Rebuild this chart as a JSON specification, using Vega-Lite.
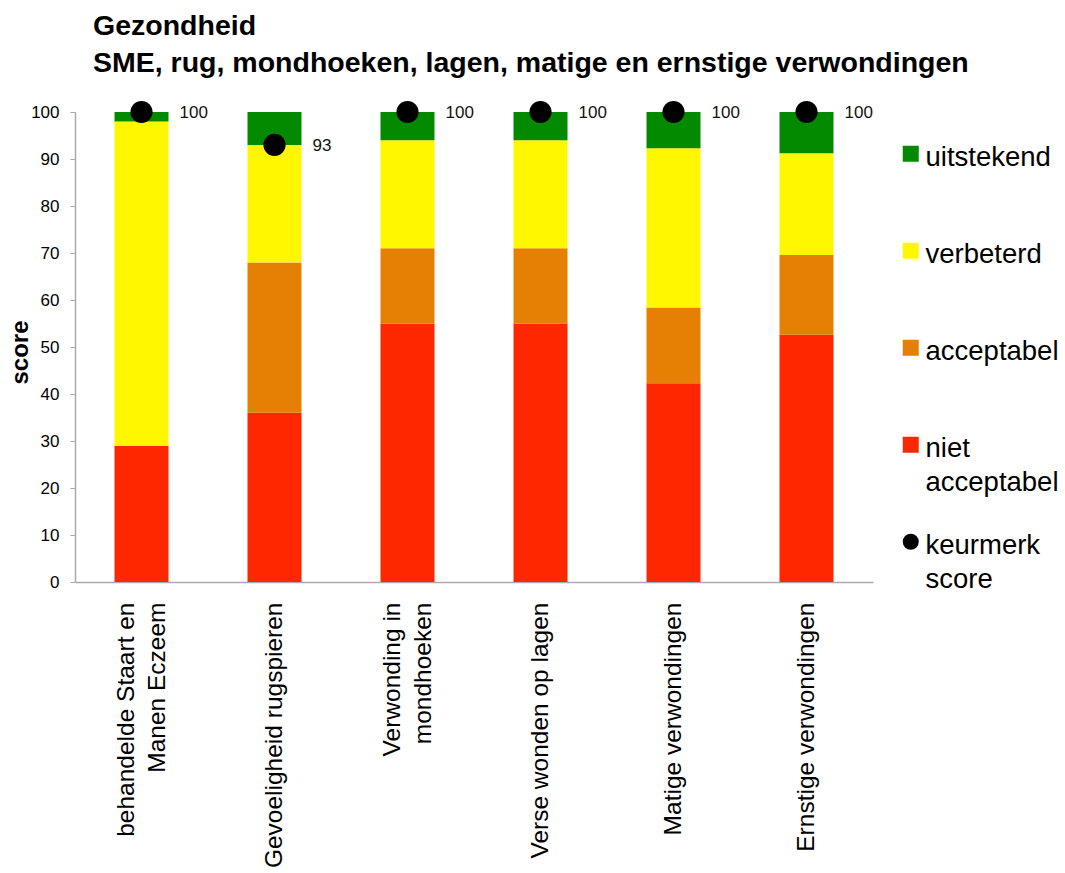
{
  "$schema": "https://vega.github.io/schema/vega-lite/v6.json",
  "width": 798,
  "height": 470,
  "autosize": {"type": "none"},
  "padding": {"left": 75, "top": 112, "right": 192, "bottom": 291},
  "background": "white",
  "title": {
    "text": ["Gezondheid", "SME, rug, mondhoeken, lagen, matige en ernstige verwondingen"],
    "anchor": "start",
    "frame": "group",
    "dx": 18,
    "fontSize": 28.5,
    "fontWeight": "bold",
    "font": "Liberation Sans",
    "color": "#000000",
    "lineHeight": 37,
    "offset": 23
  },
  "config": {
    "view": {"stroke": null},
    "font": "Liberation Sans"
  },
  "datasets": {
    "bars": [
      {"item": "behandelde Staart en|Manen Eczeem", "cat": "niet acceptabel", "ord": 1, "value": 29},
      {"item": "behandelde Staart en|Manen Eczeem", "cat": "acceptabel", "ord": 2, "value": 0},
      {"item": "behandelde Staart en|Manen Eczeem", "cat": "verbeterd", "ord": 3, "value": 69},
      {"item": "behandelde Staart en|Manen Eczeem", "cat": "uitstekend", "ord": 4, "value": 2},
      {"item": "Gevoeligheid rugspieren", "cat": "niet acceptabel", "ord": 1, "value": 36},
      {"item": "Gevoeligheid rugspieren", "cat": "acceptabel", "ord": 2, "value": 32},
      {"item": "Gevoeligheid rugspieren", "cat": "verbeterd", "ord": 3, "value": 25},
      {"item": "Gevoeligheid rugspieren", "cat": "uitstekend", "ord": 4, "value": 7},
      {"item": "Verwonding in|mondhoeken", "cat": "niet acceptabel", "ord": 1, "value": 55},
      {"item": "Verwonding in|mondhoeken", "cat": "acceptabel", "ord": 2, "value": 16},
      {"item": "Verwonding in|mondhoeken", "cat": "verbeterd", "ord": 3, "value": 23},
      {"item": "Verwonding in|mondhoeken", "cat": "uitstekend", "ord": 4, "value": 6},
      {"item": "Verse wonden op lagen", "cat": "niet acceptabel", "ord": 1, "value": 55},
      {"item": "Verse wonden op lagen", "cat": "acceptabel", "ord": 2, "value": 16},
      {"item": "Verse wonden op lagen", "cat": "verbeterd", "ord": 3, "value": 23},
      {"item": "Verse wonden op lagen", "cat": "uitstekend", "ord": 4, "value": 6},
      {"item": "Matige verwondingen", "cat": "niet acceptabel", "ord": 1, "value": 42.3},
      {"item": "Matige verwondingen", "cat": "acceptabel", "ord": 2, "value": 16.1},
      {"item": "Matige verwondingen", "cat": "verbeterd", "ord": 3, "value": 33.9},
      {"item": "Matige verwondingen", "cat": "uitstekend", "ord": 4, "value": 7.7},
      {"item": "Ernstige verwondingen", "cat": "niet acceptabel", "ord": 1, "value": 52.6},
      {"item": "Ernstige verwondingen", "cat": "acceptabel", "ord": 2, "value": 17},
      {"item": "Ernstige verwondingen", "cat": "verbeterd", "ord": 3, "value": 21.6},
      {"item": "Ernstige verwondingen", "cat": "uitstekend", "ord": 4, "value": 8.8}
    ],
    "keur": [
      {"item": "behandelde Staart en|Manen Eczeem", "cat": "keurmerk score", "score": 100},
      {"item": "Gevoeligheid rugspieren", "cat": "keurmerk score", "score": 93},
      {"item": "Verwonding in|mondhoeken", "cat": "keurmerk score", "score": 100},
      {"item": "Verse wonden op lagen", "cat": "keurmerk score", "score": 100},
      {"item": "Matige verwondingen", "cat": "keurmerk score", "score": 100},
      {"item": "Ernstige verwondingen", "cat": "keurmerk score", "score": 100}
    ]
  },
  "encoding": {
    "x": {
      "field": "item",
      "type": "nominal",
      "sort": null,
      "scale": {"paddingInner": 0.594, "paddingOuter": 0.297},
      "axis": {
        "title": null,
        "labelAngle": -90,
        "labelAlign": "right",
        "labelBaseline": "middle",
        "labelFontSize": 24.5,
        "labelColor": "#000000",
        "labelLineHeight": 31,
        "labelPadding": 20,
        "labelLimit": 400,
        "labelOffset": {"condition": {"test": "indexof(datum.value, '|') >= 0", "value": -15}, "value": 0},
        "labelExpr": "split(datum.label, '|')",
        "ticks": false,
        "domainColor": "#aaaaaa",
        "domainWidth": 1.5
      }
    }
  },
  "layer": [
    {
      "data": {"name": "bars"},
      "mark": {"type": "bar"},
      "encoding": {
        "y": {
          "field": "value",
          "type": "quantitative",
          "stack": "zero",
          "scale": {"domain": [0, 100], "nice": false},
          "axis": {
            "title": "score",
            "titleFontSize": 24,
            "titleFontWeight": "bold",
            "titleColor": "#000000",
            "titleX": -55,
            "titleY": 240,
            "titleBaseline": "middle",
            "titleAngle": -90,
            "values": [0, 10, 20, 30, 40, 50, 60, 70, 80, 90, 100],
            "grid": false,
            "labelFontSize": 17,
            "labelColor": "#000000",
            "labelPadding": 11,
            "tickSize": 5,
            "tickColor": "#aaaaaa",
            "domainColor": "#aaaaaa",
            "domainWidth": 1.5
          }
        },
        "order": {"field": "ord", "type": "quantitative"},
        "color": {
          "field": "cat",
          "type": "nominal",
          "scale": {
            "domain": ["uitstekend", "verbeterd", "acceptabel", "niet acceptabel", "keurmerk score"],
            "range": ["#038a00", "#fff700", "#e68005", "#ff2700", "#000000"]
          },
          "legend": {
            "title": null,
            "orient": "none",
            "legendX": 822,
            "legendY": 28,
            "labelFontSize": 27.5,
            "labelColor": "#000000",
            "labelLimit": 300,
            "labelOffset": 1,
            "symbolSize": 256,
            "symbolStrokeWidth": 0,
            "rowPadding": 31,
            "padding": 0,
            "labelBaseline": "alphabetic",
            "labelExpr": "datum.label == 'niet acceptabel' ? ['niet', 'acceptabel'] : datum.label == 'keurmerk score' ? ['keurmerk', 'score'] : [datum.label, '']",
            "encode": {"labels": {"update": {"dy": {"value": 12}, "lineHeight": {"value": 34}}}}
          }
        }
      }
    },
    {
      "data": {"name": "keur"},
      "mark": {"type": "point", "filled": true, "opacity": 1, "size": 490},
      "encoding": {
        "y": {"field": "score", "type": "quantitative"},
        "color": {
          "field": "cat",
          "type": "nominal",
          "scale": {
            "domain": ["uitstekend", "verbeterd", "acceptabel", "niet acceptabel", "keurmerk score"],
            "range": ["#038a00", "#fff700", "#e68005", "#ff2700", "#000000"]
          }
        },
        "shape": {
          "field": "cat",
          "type": "nominal",
          "scale": {
            "domain": ["uitstekend", "verbeterd", "acceptabel", "niet acceptabel", "keurmerk score"],
            "range": ["square", "square", "square", "square", "circle"]
          },
          "legend": {
            "title": null,
            "orient": "none",
            "legendX": 822,
            "legendY": 28,
            "labelFontSize": 27.5,
            "labelColor": "#000000",
            "labelLimit": 300,
            "labelOffset": 1,
            "symbolSize": 256,
            "symbolStrokeWidth": 0,
            "rowPadding": 31,
            "padding": 0,
            "labelBaseline": "alphabetic",
            "labelExpr": "datum.label == 'niet acceptabel' ? ['niet', 'acceptabel'] : datum.label == 'keurmerk score' ? ['keurmerk', 'score'] : [datum.label, '']",
            "encode": {"labels": {"update": {"dy": {"value": 12}, "lineHeight": {"value": 34}}}}
          }
        }
      }
    },
    {
      "data": {"name": "keur"},
      "mark": {"type": "text", "align": "left", "baseline": "middle", "dx": 38, "dy": 1, "fontSize": 17, "color": "#111111"},
      "encoding": {
        "y": {"field": "score", "type": "quantitative"},
        "text": {"field": "score", "type": "quantitative"}
      }
    }
  ]
}
